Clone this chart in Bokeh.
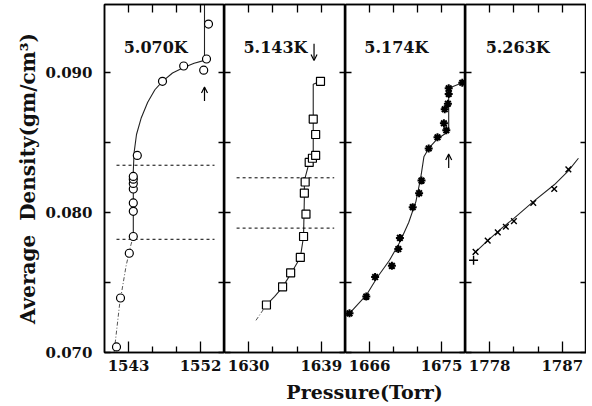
from bokeh.plotting import figure
from bokeh.layouts import row, column
from bokeh.models import (FixedTicker, PrintfTickFormatter, LinearAxis, Label,
                          Arrow, OpenHead, Range1d)
from bokeh.embed import file_html
from bokeh.resources import INLINE

# ---------------- data ----------------
temps = ["5.070K", "5.143K", "5.174K", "5.263K"]
x_ranges = [(1540, 1555), (1627, 1642), (1663, 1678), (1775, 1790)]
x_major = [[1543, 1552], [1630, 1639], [1666, 1675], [1778, 1787]]
x_minor = [[1546, 1549], [1633, 1636], [1669, 1672], [1781, 1784]]
y_major = [0.070, 0.080, 0.090]
y_minor = [0.075, 0.085]
y_lim = (0.070, 0.0949)

# 5.070K (circles)
p1_x = [1541.5, 1542.0, 1543.1, 1543.6, 1543.6, 1543.6, 1543.6, 1543.6, 1543.6,
        1543.6, 1544.1, 1547.25, 1549.9, 1552.4, 1552.75, 1553.0]
p1_y = [0.0704, 0.0739, 0.0771, 0.0783, 0.0801, 0.0807, 0.0817, 0.0821, 0.0824,
        0.0826, 0.0841, 0.0894, 0.0905, 0.0902, 0.0910, 0.0935]
p1_fit_x = [1543.6, 1543.6, 1543.7, 1544.0, 1544.6, 1545.4, 1546.3, 1547.25,
            1548.5, 1549.9, 1551.2, 1552.5, 1552.5]
p1_fit_y = [0.0783, 0.0830, 0.0843, 0.0856, 0.0868, 0.0879, 0.0888, 0.0894,
            0.0900, 0.0904, 0.0907, 0.0909, 0.0949]
p1_ext_x = [1541.2, 1541.9, 1542.7, 1543.3, 1543.6]
p1_ext_y = [0.0700, 0.0735, 0.0762, 0.0777, 0.0783]
p1_levels = [0.0834, 0.0781]
p1_level_span = [1541.5, 1553.75]

# 5.143K (squares)
p2_x = [1632.2, 1634.2, 1635.2, 1636.4, 1636.8, 1637.1, 1636.9, 1637.0, 1637.5,
        1637.9, 1638.3, 1638.3, 1638.0, 1638.9]
p2_y = [0.0734, 0.0747, 0.0757, 0.0768, 0.0783, 0.0799, 0.0814, 0.0822, 0.0836,
        0.0839, 0.0841, 0.0856, 0.0867, 0.0894]
p2_fit_x = [1632.2, 1633.2, 1634.1, 1635.3, 1636.0, 1636.4, 1636.8, 1636.9,
            1636.9, 1637.5, 1638.0, 1638.0, 1638.9]
p2_fit_y = [0.0734, 0.0740, 0.0746, 0.0757, 0.0764, 0.0768, 0.0783, 0.0811,
            0.0823, 0.0836, 0.0841, 0.0892, 0.0894]
p2_ext_x = [1630.9, 1632.2]
p2_ext_y = [0.0723, 0.0734]
p2_levels = [0.0825, 0.0789]
p2_level_span = [1628.5, 1640.6]

# 5.174K (asterisks)
p3_x = [1663.5, 1665.6, 1666.7, 1668.8, 1669.6, 1669.8, 1671.4, 1672.2, 1672.5,
        1673.4, 1674.5, 1675.6, 1675.3, 1675.4, 1675.8, 1675.9, 1675.9, 1677.6]
p3_y = [0.0728, 0.0740, 0.0754, 0.0762, 0.0774, 0.0782, 0.0804, 0.0814, 0.0823,
        0.0846, 0.0854, 0.0859, 0.0864, 0.0874, 0.0878, 0.0885, 0.0889, 0.0893]
p3_fit_x = [1663.0, 1663.5, 1665.6, 1667.0, 1668.5, 1669.8, 1670.9, 1671.8,
            1672.4, 1672.8, 1673.4, 1674.5, 1675.6, 1675.9, 1675.9, 1677.6, 1678.0]
p3_fit_y = [0.0727, 0.0728, 0.0741, 0.0754, 0.0766, 0.0779, 0.0793, 0.0808,
            0.0825, 0.0840, 0.0846, 0.0853, 0.0857, 0.0860, 0.0889, 0.0893, 0.0894]

# 5.263K (crosses)
p4_x = [1776.25, 1777.75, 1779.0, 1780.0, 1781.0, 1783.4, 1786.0, 1787.75]
p4_y = [0.0772, 0.0780, 0.0786, 0.0790, 0.0794, 0.0807, 0.0817, 0.0831]
p4_plus_x = [1776.0]
p4_plus_y = [0.0766]
p4_fit_x = [1775.9, 1777.75, 1779.5, 1781.0, 1783.4, 1786.0, 1787.75, 1789.0]
p4_fit_y = [0.0770, 0.0780, 0.0789, 0.0796, 0.0808, 0.0820, 0.0830, 0.0839]

# arrows (x, tail y, tip y)
arrow_x = [1552.5, 1638.1, 1675.9]
arrow_tail = [0.0880, 0.0921, 0.0832]
arrow_tip = [0.0890, 0.0909, 0.0842]
arrow_panel = [0, 1, 2]

# ---------------- styling / layout ----------------
FONT = "DejaVu Serif"
H = 380


def style_axis(ax, major_in, minor_in):
    ax.axis_line_color = "black"
    ax.axis_line_width = 1.5
    ax.major_tick_in = major_in
    ax.major_tick_out = 0
    ax.minor_tick_in = minor_in
    ax.minor_tick_out = 0
    ax.major_tick_line_color = "black"
    ax.minor_tick_line_color = "black"
    ax.major_tick_line_width = 1.3
    ax.minor_tick_line_width = 1.3
    ax.major_label_text_font = FONT
    ax.major_label_text_font_style = "bold"
    ax.major_label_text_color = "#111111"
    ax.major_label_text_font_size = "15px"


def tick_only_axis(ticks, length):
    # unlabeled axis: all tick marks drawn as minor ticks (no label texts)
    ax = LinearAxis(ticker=FixedTicker(ticks=[], minor_ticks=ticks))
    style_axis(ax, length, length)
    ax.major_label_standoff = 0
    return ax


def make_panel(i, width, left_border):
    p = figure(width=width, height=H, x_range=Range1d(*x_ranges[i]),
               y_range=Range1d(*y_lim), output_backend="svg", toolbar_location=None,
               min_border_left=left_border, min_border_right=0,
               min_border_top=4, min_border_bottom=28,
               x_axis_location=None, y_axis_location=None)
    p.grid.visible = False
    p.outline_line_color = "black"
    p.outline_line_width = 1.5
    p.background_fill_color = "white"
    p.border_fill_color = "white"

    bx = LinearAxis(ticker=FixedTicker(ticks=x_major[i], minor_ticks=x_minor[i]))
    style_axis(bx, 11, 6)
    bx.major_label_standoff = 7
    p.add_layout(bx, "below")

    if i == 0:
        ly = LinearAxis(ticker=FixedTicker(ticks=y_major, minor_ticks=y_minor),
                        formatter=PrintfTickFormatter(format="%.3f"))
        style_axis(ly, 6, 6)
        ly.major_label_standoff = 12
        ly.axis_label = "Average\u00a0\u00a0Density(gm/cm\u00b3)"
        ly.axis_label_text_font = FONT
        ly.axis_label_text_font_style = "bold"
        ly.axis_label_text_font_size = "20px"
        ly.axis_label_text_color = "#111111"
        ly.axis_label_standoff = 3
        p.add_layout(ly, "left")
    else:
        p.add_layout(tick_only_axis(y_major + y_minor, 6), "left")

    p.add_layout(tick_only_axis(x_major[i] + x_minor[i], 8), "above")
    p.add_layout(tick_only_axis(y_major + y_minor, 6), "right")

    p.add_layout(Label(x=x_ranges[i][0] + [2.4, 2.35, 2.35, 2.5][i], y=0.0918,
                       text=temps[i], text_font=FONT, text_font_style="bold",
                       text_font_size="16px", text_baseline="middle",
                       text_color="#111111"))
    return p


figs = [make_panel(0, 224, 104), make_panel(1, 121, 0),
        make_panel(2, 120, 0), make_panel(3, 121, 0)]
f1, f2, f3, f4 = figs

LINE = "#222222"

# panel 1
f1.line(p1_ext_x, p1_ext_y, line_color="#555555", line_width=1, line_dash="4 2 1 2")
f1.line(p1_fit_x, p1_fit_y, line_color=LINE, line_width=1.1)
for lv in p1_levels:
    f1.line(p1_level_span, [lv, lv], line_color="black", line_width=1, line_dash="3 3")
f1.scatter(p1_x, p1_y, marker="circle", size=8, fill_color="white",
           line_color="black", line_width=1.2)

# panel 2
f2.line(p2_ext_x, p2_ext_y, line_color="#555555", line_width=1, line_dash="4 2 1 2")
f2.line(p2_fit_x, p2_fit_y, line_color=LINE, line_width=1.1)
for lv in p2_levels:
    f2.line(p2_level_span, [lv, lv], line_color="black", line_width=1, line_dash="3 3")
f2.scatter(p2_x, p2_y, marker="square", size=8, fill_color="white",
           line_color="black", line_width=1.2)

# panel 3
f3.line(p3_fit_x, p3_fit_y, line_color=LINE, line_width=1.1)
f3.scatter(p3_x, p3_y, marker="asterisk", size=8, line_color="black", line_width=2)

# panel 4
f4.line(p4_fit_x, p4_fit_y, line_color=LINE, line_width=1.1)
f4.scatter(p4_x, p4_y, marker="x", size=8, line_color="black", line_width=1.4)
f4.scatter(p4_plus_x, p4_plus_y, marker="cross", size=9, line_color="black", line_width=1.4)

# arrows
for k in range(len(arrow_x)):
    figs[arrow_panel[k]].add_layout(Arrow(
        end=OpenHead(size=6, line_width=1.2, line_color="black"),
        x_start=arrow_x[k], y_start=arrow_tail[k], x_end=arrow_x[k], y_end=arrow_tip[k],
        line_width=1.2, line_color="black"))

# x-axis title strip
lab = figure(width=586, height=26, x_range=Range1d(0, 586), y_range=Range1d(0, 26),
             output_backend="svg", toolbar_location=None, min_border=0,
             x_axis_location=None, y_axis_location=None)
lab.grid.visible = False
lab.outline_line_color = None
lab.add_layout(Label(x=364, y=15, text="Pressure(Torr)", text_align="center",
                     text_baseline="middle", text_font=FONT, text_font_style="bold",
                     text_font_size="19px", text_color="#111111"))

layout = column(row(*figs, spacing=0), lab, spacing=0)
open("out.html", "w").write(file_html(layout, INLINE))
